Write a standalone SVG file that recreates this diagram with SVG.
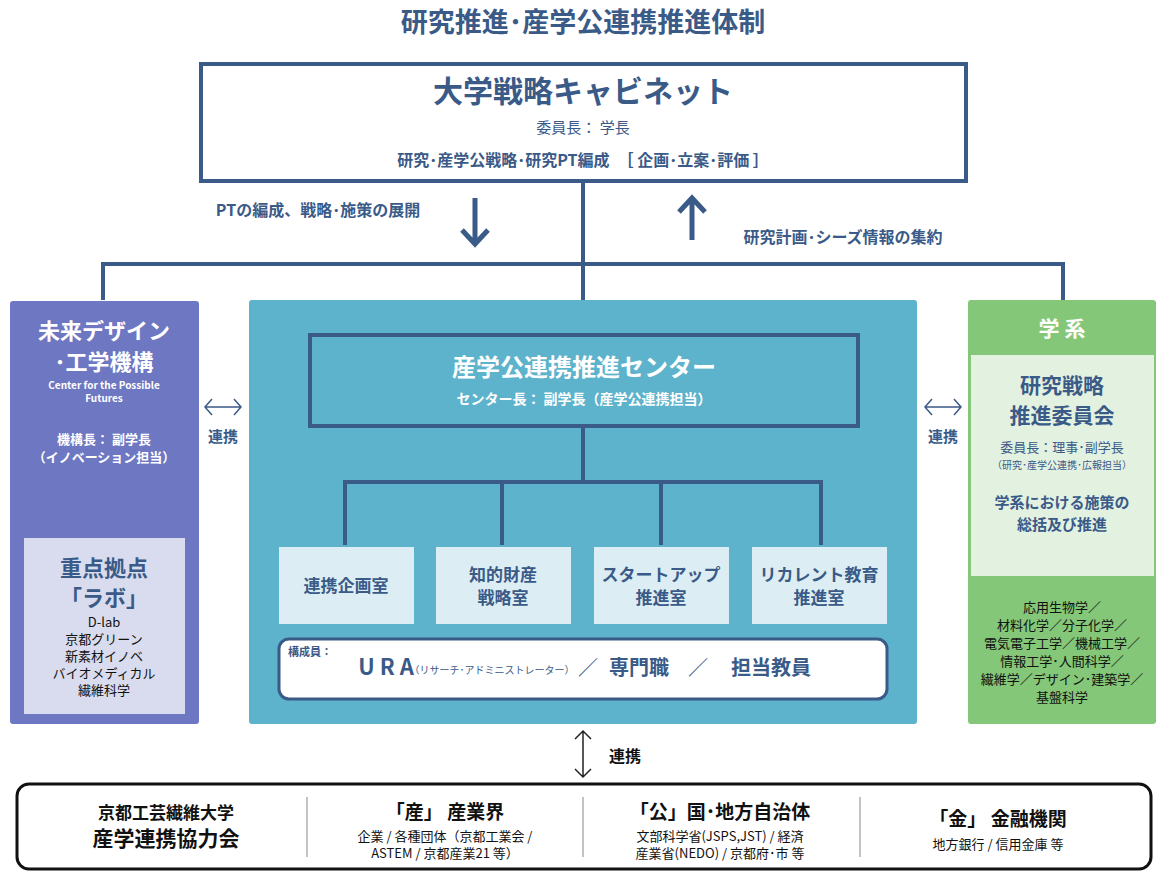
<svg xmlns="http://www.w3.org/2000/svg" width="1161" height="873" viewBox="0 0 1161 873">
<style>
text{font-family:"Noto Sans CJK JP","Noto Sans",sans-serif;text-anchor:middle}
.b{font-weight:bold}
.d{fill:#3A5A88}
.w{fill:#fff}
.k{fill:#111}
.ln{stroke:#3A5A88;stroke-width:4;fill:none}
</style>
<rect width="1161" height="873" fill="#fff"/>
<text x="583" y="32" font-size="27" class="b d">研究推進･産学公連携推進体制</text>
<g id="cabinet">
<rect x="201" y="64" width="765" height="117" fill="#fff" stroke="#3A5A88" stroke-width="4"/>
<text x="583" y="102" font-size="30" class="b d">大学戦略キャビネット</text>
<text x="583" y="133" font-size="15" class="d">委員長： 学長</text>
<text x="583" y="166" font-size="16" class="b d">研究･産学公戦略･研究PT編成　［ 企画･立案･評価 ］</text>
</g>
<g id="future">
<rect x="10" y="301" width="189" height="423" rx="3" fill="#6E77C1"/>
<text x="104" y="339" font-size="22" class="b w">未来デザイン</text>
<text x="104" y="370" font-size="22" class="b w">･工学機構</text>
<text x="104" y="389" font-size="10" class="b w">Center for the Possible</text>
<text x="104" y="402" font-size="10" class="b w">Futures</text>
<text x="104" y="444" font-size="13" class="b w">機構長： 副学長</text>
<text x="104" y="462" font-size="13" class="b w">（イノベーション担当）</text>
<rect x="24" y="538" width="161" height="176" fill="#D9DCEE"/>
<text x="104" y="576" font-size="22" class="b d">重点拠点</text>
<text x="104" y="606" font-size="22" class="b d">「ラボ」</text>
<text x="104" y="627" font-size="13" class="k">D-lab</text>
<text x="104" y="644" font-size="13" class="k">京都グリーン</text>
<text x="104" y="661" font-size="13" class="k">新素材イノベ</text>
<text x="104" y="678" font-size="13" class="k">バイオメディカル</text>
<text x="104" y="695" font-size="13" class="k">繊維科学</text>
</g>
<g id="center">
<rect x="249" y="300" width="668" height="424" rx="3" fill="#5DB3CC"/>
<rect x="310" y="335" width="548" height="91" fill="none" stroke="#3A5A88" stroke-width="4"/>
<text x="584" y="376" font-size="24" class="b w">産学公連携推進センター</text>
<text x="584" y="404" font-size="14" class="b w">センター長： 副学長（産学公連携担当）</text>
</g>
<g id="connectors">
<path class="ln" d="M583 181V300M103 300V264H1063V300M583 428V482M345 545V482H821V545M502 482V545M661 482V545"/>
<path d="M475 198V240M462 230L475 244L488 230" stroke="#3A5A88" stroke-width="5" fill="none"/>
<path d="M692 240V202M679 212L692 198L705 212" stroke="#3A5A88" stroke-width="5" fill="none"/>
<path d="M205 407H241M212 399L205 407L212 415M234 399L241 407L234 415" stroke="#3A5A88" stroke-width="1.5" fill="none"/>
<path d="M925 407H961M932 399L925 407L932 415M954 399L961 407L954 415" stroke="#3A5A88" stroke-width="1.5" fill="none"/>
<path d="M583 731V777M575 739L583 731L591 739M575 769L583 777L591 769" stroke="#222" stroke-width="1.5" fill="none"/>
</g>
<text x="318" y="216" font-size="16" class="b d">PTの編成、戦略･施策の展開</text>
<text x="843" y="243" font-size="16" class="b d">研究計画･シーズ情報の集約</text>
<text x="223" y="442" font-size="15" class="b d">連携</text>
<text x="943" y="442" font-size="15" class="b d">連携</text>
<text x="625" y="762" font-size="16" class="b k">連携</text>
<g id="rooms">
<rect x="279" y="547" width="135" height="77" fill="#DCEEF3"/>
<text x="346" y="592" font-size="17" class="b d">連携企画室</text>
<rect x="436" y="547" width="135" height="77" fill="#DCEEF3"/>
<text x="503" y="581" font-size="17" class="b d">知的財産</text>
<text x="503" y="604" font-size="17" class="b d">戦略室</text>
<rect x="594" y="547" width="135" height="77" fill="#DCEEF3"/>
<text x="661" y="581" font-size="17" class="b d">スタートアップ</text>
<text x="661" y="604" font-size="17" class="b d">推進室</text>
<rect x="752" y="547" width="135" height="77" fill="#DCEEF3"/>
<text x="819" y="581" font-size="17" class="b d">リカレント教育</text>
<text x="819" y="604" font-size="17" class="b d">推進室</text>
</g>
<g id="members">
<rect x="279" y="639" width="608" height="60" rx="10" fill="#fff" stroke="#3A5A88" stroke-width="3"/>
<text x="310" y="656" font-size="11" class="b d">構成員：</text>
<text x="386" y="675" font-size="22" class="b d">U R A</text>
<text x="492" y="674" font-size="10" class="d">（リサーチ･アドミニストレーター）</text>
<text x="588" y="675" font-size="20" class="d">／</text>
<text x="639" y="675" font-size="20" class="b d">専門職</text>
<text x="698" y="675" font-size="20" class="d">／</text>
<text x="771" y="675" font-size="20" class="b d">担当教員</text>
</g>
<g id="faculty">
<rect x="968" y="300" width="188" height="424" rx="3" fill="#84C778"/>
<text x="1062" y="336" font-size="21" class="b w">学 系</text>
<rect x="971" y="355" width="183" height="221" fill="#E3F1E0"/>
<text x="1062" y="393" font-size="21" class="b d">研究戦略</text>
<text x="1062" y="423" font-size="21" class="b d">推進委員会</text>
<text x="1062" y="452" font-size="13" class="d">委員長：理事･副学長</text>
<text x="1062" y="469" font-size="10" class="d">（研究･産学公連携･広報担当）</text>
<text x="1062" y="508" font-size="15" class="b d">学系における施策の</text>
<text x="1062" y="530" font-size="15" class="b d">総括及び推進</text>
<text x="1062" y="612" font-size="13" class="k">応用生物学／</text>
<text x="1062" y="630" font-size="13" class="k">材料化学／分子化学／</text>
<text x="1062" y="648" font-size="13" class="k">電気電子工学／機械工学／</text>
<text x="1062" y="666" font-size="13" class="k">情報工学･人間科学／</text>
<text x="1062" y="684" font-size="13" class="k">繊維学／デザイン･建築学／</text>
<text x="1062" y="702" font-size="13" class="k">基盤科学</text>
</g>
<g id="partners">
<rect x="17" y="784" width="1134" height="85" rx="12" fill="#fff" stroke="#111" stroke-width="3"/>
<path d="M307 797V857M583 797V857M860 797V857" stroke="#888" stroke-width="1"/>
<text x="166" y="819" font-size="17" class="b k">京都工芸繊維大学</text>
<text x="166" y="846" font-size="21" class="b k">産学連携協力会</text>
<text x="445" y="819" font-size="19" class="b k">「産」 産業界</text>
<text x="445" y="841" font-size="13" class="k">企業 / 各種団体（京都工業会 /</text>
<text x="445" y="858" font-size="13" class="k">ASTEM / 京都産業21 等）</text>
<text x="720" y="819" font-size="19" class="b k">「公」国･地方自治体</text>
<text x="720" y="841" font-size="13" class="k">文部科学省(JSPS,JST) / 経済</text>
<text x="720" y="858" font-size="13" class="k">産業省(NEDO) / 京都府･市 等</text>
<text x="998" y="826" font-size="19" class="b k">「金」 金融機関</text>
<text x="998" y="849" font-size="13" class="k">地方銀行 / 信用金庫 等</text>
</g>
</svg>
